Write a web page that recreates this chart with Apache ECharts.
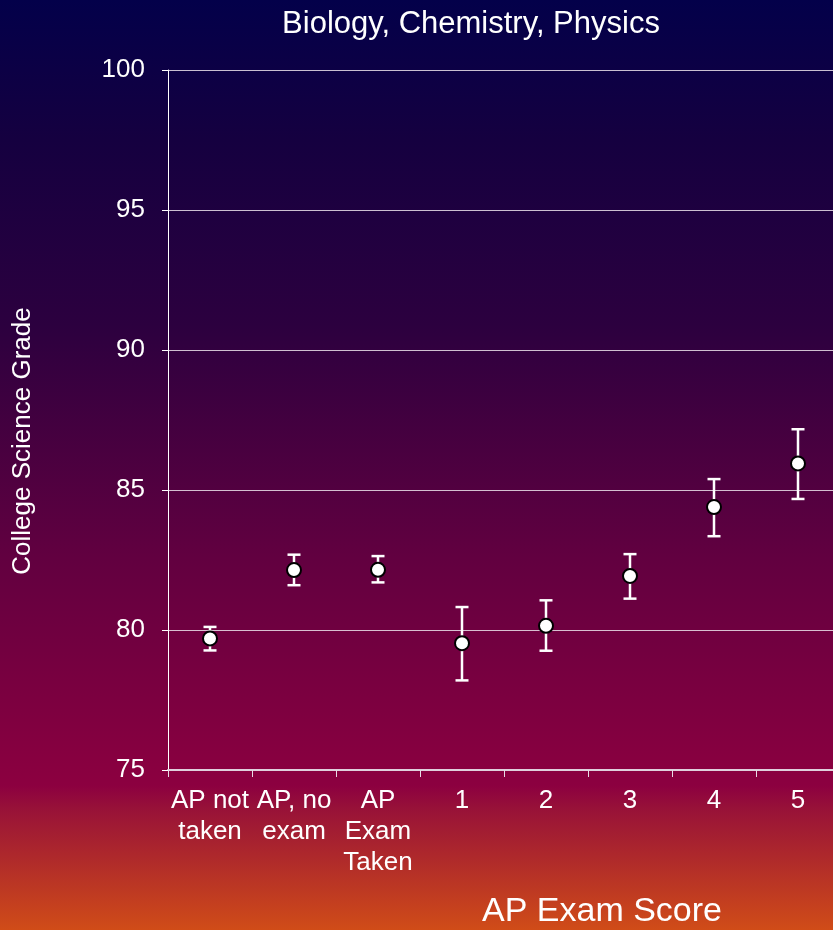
<!DOCTYPE html>
<html>
<head>
<meta charset="utf-8">
<title>Biology, Chemistry, Physics</title>
<script src="https://cdn.jsdelivr.net/npm/echarts@6/dist/echarts.min.js"></script>
<style>
  html, body { margin: 0; padding: 0; }
  #chart { width: 833px; height: 930px; }
</style>
</head>
<body>
<div id="chart"></div>
<script>
// Groups along the x axis
const categories = ['AP not\ntaken', 'AP, no\nexam', 'AP\nExam\nTaken', '1', '2', '3', '4', '5'];
// Mean college science grade per group
const meanGrade = [79.70, 82.14, 82.15, 79.53, 80.15, 81.93, 84.39, 85.95];
// Upper and lower ends of the error bars
const errorHigh = [80.11, 82.69, 82.64, 80.82, 81.06, 82.71, 85.39, 87.17];
const errorLow  = [79.27, 81.60, 81.70, 78.20, 79.26, 81.12, 83.35, 84.68];
// Value axis ticks
const yTicks = [75, 80, 85, 90, 95, 100];

const chart = echarts.init(document.getElementById('chart'), null, { renderer: 'canvas' });

const font = 'Liberation Sans, Arial, sans-serif';
const errorData = categories.map((c, i) => [i, errorLow[i], errorHigh[i]]);

const option = {
  backgroundColor: new echarts.graphic.LinearGradient(0, 0, 0, 1, [
    { offset: 0.00, color: '#03004a' },
    { offset: 0.15, color: '#150040' },
    { offset: 0.35, color: '#2c003f' },
    { offset: 0.60, color: '#620040' },
    { offset: 0.845, color: '#8c0040' },
    { offset: 0.87, color: '#981238' },
    { offset: 1.00, color: '#d04c18' }
  ]),
  animation: false,
  textStyle: { fontFamily: font },
  title: {
    text: 'Biology, Chemistry, Physics',
    left: 466,
    top: 4,
    textAlign: 'center',
    textStyle: { color: '#ffffff', fontSize: 31, fontWeight: 'normal', fontFamily: font }
  },
  // The plot runs slightly past the right edge of the canvas
  grid: { left: 168, top: 70, width: 672, height: 700, outerBoundsMode: 'none' },
  xAxis: {
    type: 'category',
    data: categories,
    boundaryGap: true,
    axisLine: { show: true, lineStyle: { color: '#e0d0dc', width: 2 } },
    axisTick: { show: true, alignWithLabel: false, length: 7, inside: false, lineStyle: { color: '#e8dce6', width: 1 } },
    axisLabel: {
      interval: 0,
      color: '#ffffff',
      fontSize: 26,
      lineHeight: 31,
      margin: 15,
      fontFamily: font
    },
    splitLine: { show: false }
  },
  yAxis: {
    type: 'value',
    min: yTicks[0],
    max: yTicks[yTicks.length - 1],
    interval: 5,
    axisLine: { show: true, lineStyle: { color: '#ffffff', width: 1 } },
    axisTick: { show: true, length: 6, lineStyle: { color: '#ffffff', width: 1 } },
    axisLabel: { color: '#ffffff', fontSize: 26, margin: 23, fontFamily: font },
    splitLine: { show: true, lineStyle: { color: 'rgba(235,225,235,0.85)', width: 1 } }
  },
  graphic: [
    {
      type: 'text',
      x: 602,
      y: 912,
      style: {
        text: 'AP Exam Score',
        fill: '#ffffff',
        font: '34px ' + font,
        textAlign: 'center',
        textVerticalAlign: 'middle'
      }
    },
    {
      type: 'text',
      x: 23,
      y: 441,
      rotation: Math.PI / 2,
      style: {
        text: 'College Science Grade',
        fill: '#ffffff',
        font: '26px ' + font,
        textAlign: 'center',
        textVerticalAlign: 'middle'
      }
    }
  ],
  series: [
    {
      type: 'custom',
      name: 'error',
      data: errorData,
      z: 3,
      renderItem: function (params, api) {
        const x = api.value(0);
        const lo = api.coord([x, api.value(1)]);
        const hi = api.coord([x, api.value(2)]);
        const half = 6.5;
        const style = { stroke: '#ffffff', lineWidth: 2.5 };
        return {
          type: 'group',
          children: [
            { type: 'line', shape: { x1: hi[0], y1: hi[1], x2: lo[0], y2: lo[1] }, style: style },
            { type: 'line', shape: { x1: hi[0] - half, y1: hi[1], x2: hi[0] + half, y2: hi[1] }, style: style },
            { type: 'line', shape: { x1: lo[0] - half, y1: lo[1], x2: lo[0] + half, y2: lo[1] }, style: style }
          ]
        };
      }
    },
    {
      type: 'scatter',
      name: 'mean',
      data: meanGrade,
      z: 5,
      symbol: 'circle',
      symbolSize: 14,
      itemStyle: { color: '#ffffff', borderColor: '#000000', borderWidth: 2, opacity: 1 }
    }
  ]
};

chart.setOption(option);
</script>
</body>
</html>
